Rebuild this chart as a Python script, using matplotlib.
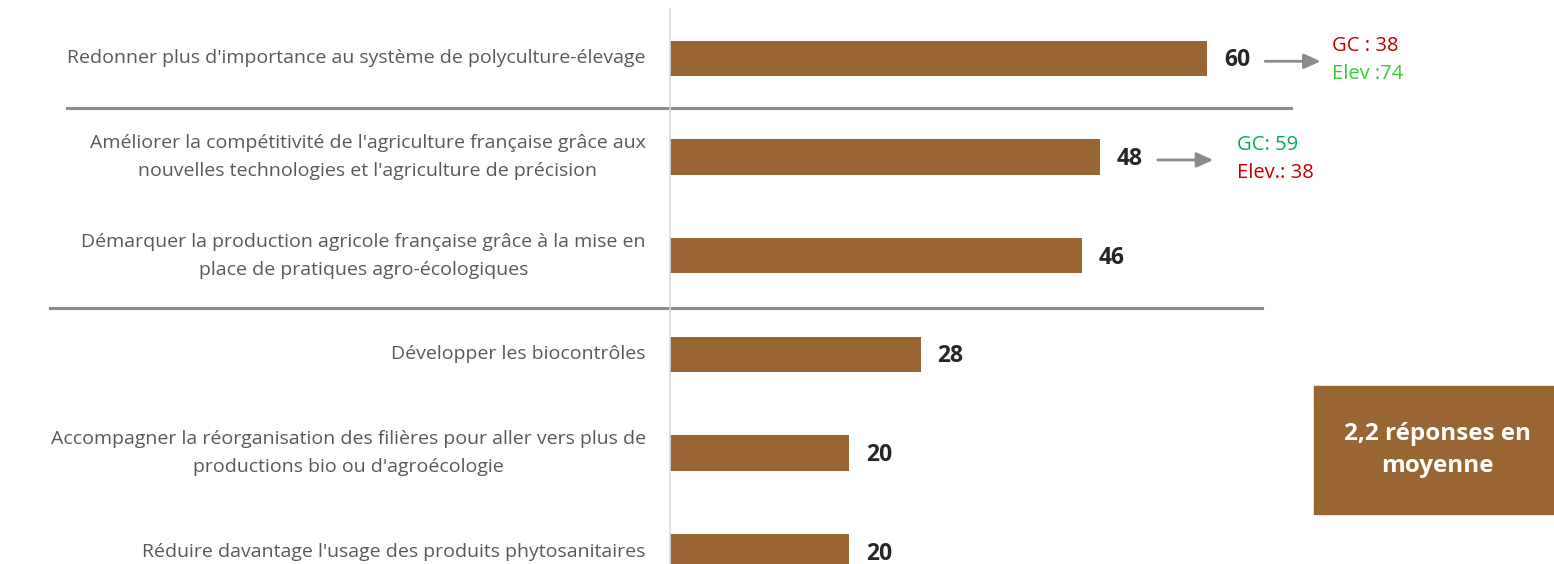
import matplotlib
matplotlib.use("Agg")
import matplotlib.pyplot as plt
from matplotlib.patches import Rectangle

plt.rcParams["font.family"] = ["Open Sans", "DejaVu Sans"]

# data
labels = [
    "Redonner plus d'importance au système de polyculture-élevage",
    "Améliorer la compétitivité de l'agriculture française grâce aux\nnouvelles technologies et l'agriculture de précision",
    "Démarquer la production agricole française grâce à la mise en\nplace de pratiques agro-écologiques",
    "Développer les biocontrôles",
    "Accompagner la réorganisation des filières pour aller vers plus de\nproductions bio ou d'agroécologie",
    "Réduire davantage l'usage des produits phytosanitaires",
]
values = [60, 48, 46, 28, 20, 20]

# breakdown notes (row index, first line, second line)
note_rows = [0, 1]
note_top = ["GC : 38", "GC: 59"]
note_bottom = ["Elev :74", "Elev.: 38"]
note_top_colors = ["#c00000", "#00b050"]
note_bottom_colors = ["#33cc33", "#c00000"]

summary_text = "2,2 réponses en\nmoyenne"

BAR = "#996633"
GREY_TXT = "#595959"
SEP = "#8c8c8c"

fig = plt.figure(figsize=(15.54, 5.64), dpi=100)
W, H = 1554, 564
# axes placed in pixel terms; bottom runs off the figure like the original
ax = fig.add_axes([670 / W, -37 / H, 895 / W, 592 / H])
ax.set_xlim(0, 100)
ax.set_ylim(len(values) - 0.5, -0.5)

y = list(range(len(values)))
ax.barh(y, values, height=0.355, color=BAR)

for sp in ["top", "right", "bottom"]:
    ax.spines[sp].set_visible(False)
ax.spines["left"].set_color("#d9d9d9")
ax.spines["left"].set_linewidth(1.2)
ax.set_xticks([])
ax.set_yticks([])

for i, (lab, v) in enumerate(zip(labels, values)):
    ax.text(-2.7, i, lab, ha="right", va="center", multialignment="center",
            fontsize=14, color=GREY_TXT, linespacing=1.72)
    ax.text(v + 1.9, i + 0.02, str(v), ha="left", va="center", fontsize=16.5,
            fontweight="bold", color="#262626")

# separators between groups
ax.plot([-67.4, 69.4], [0.5, 0.5], color=SEP, lw=2.2, clip_on=False)
ax.plot([-69.3, 66.1], [2.53, 2.53], color=SEP, lw=2.2, clip_on=False)

text_off = [14.0, 15.3]
for k, r in enumerate(note_rows):
    v = values[r]
    ax.annotate("", xy=(v + 12.7, r + 0.03), xytext=(v + 6.5, r + 0.03),
                arrowprops=dict(arrowstyle="-|>,head_length=1.0,head_width=0.45",
                                color=SEP, lw=2, shrinkA=0, shrinkB=0),
                annotation_clip=False)
    ax.text(v + text_off[k], r - 0.12, note_top[k], ha="left", va="center",
            fontsize=14.5, color=note_top_colors[k], clip_on=False)
    ax.text(v + text_off[k], r + 0.16, note_bottom[k], ha="left", va="center",
            fontsize=14.5, color=note_bottom_colors[k], clip_on=False)

# summary box
fig.patches.append(Rectangle((1314 / W, 50 / H), 240 / W, 128 / H,
                             transform=fig.transFigure, color=BAR, zorder=0))
fig.text(1437 / W, 114 / H, summary_text, ha="center", va="center",
         fontsize=17.5, fontweight="bold", color="white", linespacing=1.5)

fig.savefig("out.png", dpi=100)
